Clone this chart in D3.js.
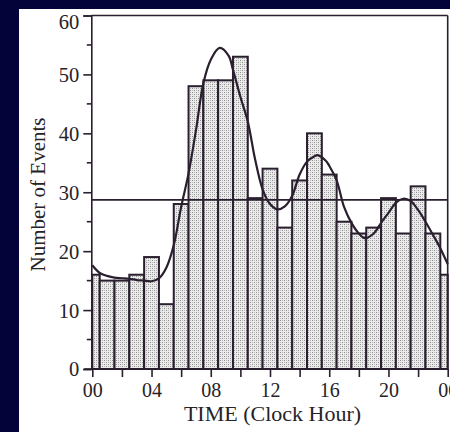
<!DOCTYPE html>
<html>
<head>
<meta charset="utf-8">
<script src="https://cdn.jsdelivr.net/npm/d3@7"></script>
<style>
  html, body { margin: 0; padding: 0; background: #03033a; }
  svg { display: block; }
</style>
</head>
<body>
<svg id="chart" width="450" height="432"></svg>
<script>
// ---- Data ----
const hours = d3.range(0, 24);                // clock hours 00..23
const hourCounts = [16, 15, 15, 16, 19, 11, 28, 48, 49, 49, 53, 29,
                    34, 24, 32, 40, 33, 25, 23, 24, 29, 23, 31, 23];
const meanCount = 28.7;                        // horizontal reference line
const curveHours = [0, 0.5, 1, 1.5, 2, 2.5, 3, 3.5, 4, 4.5, 5, 5.5, 6, 6.5, 7, 7.5, 8, 8.6,
                    9.2, 9.5, 10, 10.5, 11, 11.5, 12, 12.5, 13, 13.5, 14, 14.5, 15, 15.2,
                    15.75, 16, 16.5, 17, 17.5, 18, 18.4, 19, 19.5, 20, 20.5, 21, 21.5, 22,
                    22.5, 23, 23.5, 24];
const curveValues = [17.6, 16.3, 15.8, 15.5, 15.4, 15.3, 15.1, 15.0, 14.9, 15.4, 17.2, 21.0,
                     27.5, 33.2, 40.5, 48.5, 52.5, 54.5, 53.2, 50.8, 46.2, 42.0, 35.5, 30.5,
                     28.0, 27.1, 27.6, 29.4, 33.0, 35.2, 36.1, 36.3, 35.4, 34.5, 32.0, 27.5,
                     24.8, 23.0, 22.2, 23.0, 24.8, 26.5, 28.2, 28.9, 28.5, 27.0, 25.0, 22.8,
                     20.5, 17.8];
const xTickValues = d3.range(0, 25, 2);
const xTickLabels = ["00", "", "04", "", "08", "", "12", "", "16", "", "20", "", "00"];
const yMajorTicks = [0, 10, 20, 30, 40, 50, 60];
const yMinorTicks = [5, 15, 25, 35, 45, 55];
const xTitle = "TIME (Clock Hour)";
const yTitle = "Number of Events";

// ---- Layout ----
const svg = d3.select("#chart");
const ink = "#2a1f2e";
const textInk = "#262226";

svg.append("rect").attr("x", 0).attr("y", 0).attr("width", 450).attr("height", 432).attr("fill", "#03033a");
svg.append("rect").attr("x", 19).attr("y", 9).attr("width", 431).attr("height", 423).attr("fill", "#ffffff");

const x = d3.scaleLinear().domain([0, 24]).range([92.3, 447.7]);
const y = d3.scaleLinear().domain([0, 60]).range([369, 15.5]);

// stipple pattern
const defs = svg.append("defs");
const pat = defs.append("pattern").attr("id", "stipple")
  .attr("patternUnits", "userSpaceOnUse").attr("width", 4).attr("height", 4);
pat.append("rect").attr("width", 4).attr("height", 4).attr("fill", "#ebebeb");
pat.append("rect").attr("x", 0).attr("y", 0).attr("width", 1).attr("height", 1).attr("fill", "#8f8f8f");
pat.append("rect").attr("x", 2).attr("y", 2).attr("width", 1).attr("height", 1).attr("fill", "#8f8f8f");
pat.append("rect").attr("x", 2).attr("y", 0).attr("width", 1).attr("height", 1).attr("fill", "#bbbbbb");
pat.append("rect").attr("x", 0).attr("y", 2).attr("width", 1).attr("height", 1).attr("fill", "#bbbbbb");

// bars: each hour centred on its clock hour; hour 00 wraps to both ends
const bars = [];
hours.forEach((h, i) => {
  const c = hourCounts[i];
  if (h === 0) {
    bars.push({ x0: 0, x1: 0.5, v: c });
    bars.push({ x0: 23.5, x1: 24, v: c });
  } else {
    bars.push({ x0: h - 0.5, x1: h + 0.5, v: c });
  }
});

svg.append("g").selectAll("rect").data(bars).join("rect")
  .attr("x", d => x(d.x0))
  .attr("width", d => x(d.x1) - x(d.x0))
  .attr("y", d => y(d.v))
  .attr("height", d => y(0) - y(d.v))
  .attr("fill", "url(#stipple)")
  .attr("stroke", ink)
  .attr("stroke-width", 2);

// mean line
svg.append("line")
  .attr("x1", x(0) - 1).attr("x2", x(24))
  .attr("y1", y(meanCount)).attr("y2", y(meanCount))
  .attr("stroke", ink).attr("stroke-width", 1.6);

// fitted curve
const pts = curveHours.map((h, i) => [h, curveValues[i]]);
svg.append("path")
  .attr("d", d3.line().x(d => x(d[0])).y(d => y(d[1])).curve(d3.curveCatmullRom.alpha(0.5))(pts))
  .attr("fill", "none").attr("stroke", ink).attr("stroke-width", 2.2);

// frame: top and right border
svg.append("line").attr("x1", x(0) - 1).attr("x2", x(24)).attr("y1", y(60)).attr("y2", y(60))
  .attr("stroke", ink).attr("stroke-width", 1.6);
svg.append("line").attr("x1", x(24)).attr("x2", x(24)).attr("y1", y(60)).attr("y2", y(0))
  .attr("stroke", ink).attr("stroke-width", 1.6);

// y axis
const yAxisG = svg.append("g").attr("transform", `translate(${x(0) - 1},0)`);
yAxisG.call(d3.axisLeft(y).tickValues(yMajorTicks).tickSize(8).tickPadding(4).tickFormat(d3.format("d")));
yAxisG.append("g").selectAll("line").data(yMinorTicks).join("line")
  .attr("x1", -4.5).attr("x2", 0).attr("y1", d => y(d)).attr("y2", d => y(d))
  .attr("stroke", ink).attr("stroke-width", 1.6);
yAxisG.select(".domain").attr("stroke", ink).attr("stroke-width", 1.6);
yAxisG.selectAll(".tick line").attr("stroke", ink).attr("stroke-width", 1.6);
yAxisG.selectAll(".tick text")
  .attr("font-family", "'Liberation Serif', 'Times New Roman', serif")
  .attr("font-size", 20.5).attr("fill", textInk)
  .attr("dy", d => d === 60 ? "0.62em" : "0.34em");

// x axis
const xAxisG = svg.append("g").attr("transform", `translate(0,${y(0)})`);
xAxisG.call(d3.axisBottom(x).tickValues(xTickValues).tickSize(8).tickPadding(6)
  .tickFormat((d, i) => xTickLabels[i]));
xAxisG.select(".domain").attr("d", `M${x(0) - 8},0H${x(24)}`).attr("stroke", ink).attr("stroke-width", 1.6);
xAxisG.selectAll(".tick line").attr("stroke", ink).attr("stroke-width", 1.6);
xAxisG.selectAll(".tick text")
  .attr("font-family", "'Liberation Serif', 'Times New Roman', serif")
  .attr("font-size", 20).attr("fill", textInk);

// titles
svg.append("text")
  .attr("x", 272.5).attr("y", 421)
  .attr("text-anchor", "middle")
  .attr("font-family", "'Liberation Serif', 'Times New Roman', serif")
  .attr("font-size", 22).attr("fill", textInk)
  .text(xTitle);

svg.append("text")
  .attr("transform", "translate(45,194.5) rotate(-90)")
  .attr("text-anchor", "middle")
  .attr("font-family", "'Liberation Serif', 'Times New Roman', serif")
  .attr("font-size", 21).attr("fill", textInk)
  .text(yTitle);
</script>
</body>
</html>
